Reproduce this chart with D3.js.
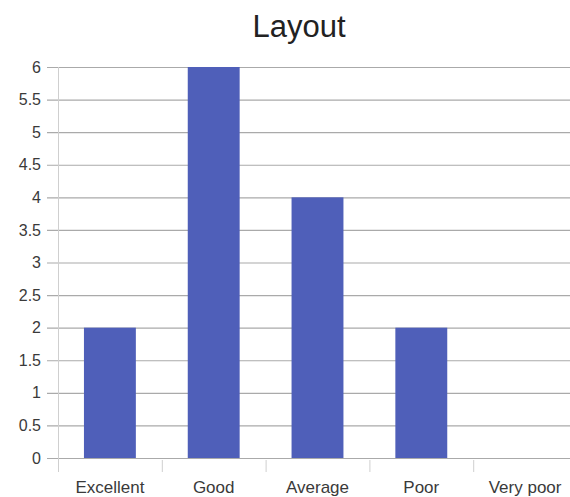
<!DOCTYPE html>
<html>
<head>
<meta charset="utf-8">
<script src="https://cdn.jsdelivr.net/npm/d3@7/dist/d3.min.js"></script>
<style>
  html, body { margin: 0; padding: 0; background: #fff; }
  svg { display: block; }
  text { font-family: Arial, "Liberation Sans", sans-serif; }
</style>
</head>
<body>
<script>
// Ratings for the "Layout" question
const categories = ["Excellent", "Good", "Average", "Poor", "Very poor"];
const counts = [2, 6, 4, 2, 0];
const yTicks = [0, 0.5, 1, 1.5, 2, 2.5, 3, 3.5, 4, 4.5, 5, 5.5, 6];
const chartTitle = "Layout";

const W = 570, H = 497;
const plot = { left: 58, right: 577, top: 67, bottom: 458 };

const svg = d3.select("body").append("svg")
  .attr("width", W).attr("height", H);

const x = d3.scaleBand()
  .domain(categories)
  .range([plot.left, plot.right])
  .paddingInner(0.5)
  .paddingOuter(0.25);

const y = d3.scaleLinear()
  .domain([0, 6])
  .range([plot.bottom, plot.top]);

// Title
svg.append("text")
  .attr("x", 299).attr("y", 37)
  .attr("text-anchor", "middle")
  .attr("font-size", 31)
  .attr("fill", "#222")
  .text(chartTitle);

// Horizontal gridlines with left ticks
const yAxis = d3.axisLeft(y)
  .tickValues(yTicks)
  .tickSize(plot.right - plot.left + 11)
  .tickPadding(6)
  .tickFormat(d => String(d));

const gy = svg.append("g")
  .attr("transform", `translate(${plot.right},0)`)
  .call(yAxis);
gy.select(".domain").remove();
gy.selectAll(".tick line").attr("stroke", "#aaaaaa").attr("stroke-width", 1.2);
gy.selectAll(".tick text")
  .attr("font-size", 16)
  .attr("fill", "#3a3a3a");

// Vertical axis line
svg.append("line")
  .attr("x1", plot.left + 0.5).attr("x2", plot.left + 0.5)
  .attr("y1", plot.top).attr("y2", plot.bottom + 14)
  .attr("stroke", "#cfcfcf");

// Bars
svg.append("g").selectAll("rect")
  .data(categories.map((c, i) => ({ c, v: counts[i] })))
  .join("rect")
  .attr("x", d => x(d.c))
  .attr("width", x.bandwidth())
  .attr("y", d => y(d.v))
  .attr("height", d => y(0) - y(d.v))
  .attr("fill", "#4f5fb9");

// Category separators below the baseline
const step = x.step();
svg.append("g").selectAll("line")
  .data(categories.slice(1))
  .join("line")
  .attr("x1", d => x(d) - step * 0.25 + 0.5)
  .attr("x2", d => x(d) - step * 0.25 + 0.5)
  .attr("y1", plot.bottom + 2)
  .attr("y2", plot.bottom + 14)
  .attr("stroke", "#cfcfcf");

// Category labels
svg.append("g").selectAll("text")
  .data(categories)
  .join("text")
  .attr("x", d => x(d) + x.bandwidth() / 2)
  .attr("y", 493)
  .attr("text-anchor", "middle")
  .attr("font-size", 17)
  .attr("fill", "#3a3a3a")
  .text(d => d);
</script>
</body>
</html>
